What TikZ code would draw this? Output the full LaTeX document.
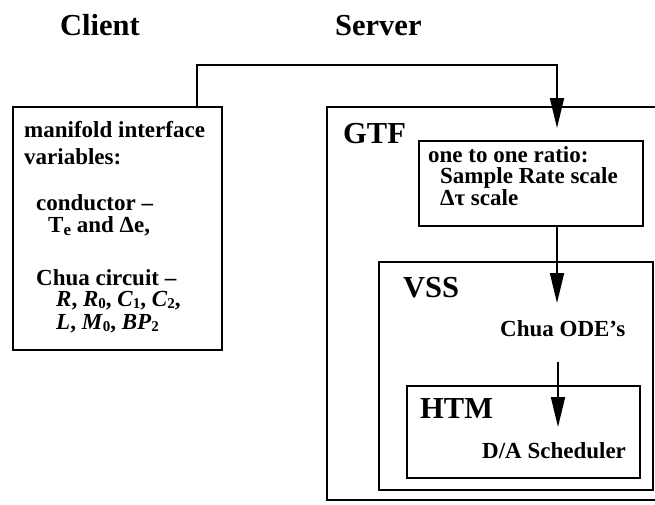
\documentclass[tikz,border=0pt]{standalone}
\usepackage{fontspec}
\setmainfont{Liberation Serif}
\usetikzlibrary{arrows.meta}
\newcommand{\mysub}[1]{\raisebox{-0.25ex}{\fontsize{15pt}{15pt}\selectfont\upshape #1}}
\tikzset{
  box/.style={draw, line width=1.8pt, inner sep=0pt, outer sep=0pt, anchor=north west},
  body/.style={font=\fontsize{23pt}{25pt}\selectfont\bfseries, inner sep=0pt, anchor=base west},
  head/.style={font=\fontsize{30.5pt}{32pt}\selectfont\bfseries, inner sep=0pt, anchor=base west},
  conn/.style={line width=1.8pt, -{Triangle[length=30pt,width=14pt]}},
}
\begin{document}
\begin{tikzpicture}[x=1pt,y=-1pt]
\useasboundingbox (0,0) rectangle (655,504);
\clip (0,0) rectangle (655,504);
% titles
\node[head] (tclient) at (60,35) {Client};
\node[head] (tserver) at (335,35) {Server};
% client box
\node[box, minimum width=209pt, minimum height=243pt] (clientbox) at (13,107) {};
\node[body] (l1) at (24,137) {manifold interface};
\node[body] (l2) at (24,164) {variables:};
\node[body] (l3) at (36,210) {conductor –};
\node[body] (l4) at (48,232) {T\raisebox{-0.35ex}{\fontsize{17pt}{17pt}\selectfont e} and Δe,};
\node[body] (l5) at (36,285) {Chua circuit –};
\node[body] (l6) at (56,306) {\textit{R}, \textit{R}\mysub{0}, \textit{C}\mysub{1}, \textit{C}\mysub{2},};
\node[body] (l7) at (56,329) {\textit{L}, \textit{M}\mysub{0}, \textit{BP}\mysub{2}};
% server boxes
\node[box, minimum width=373pt, minimum height=393pt] (gtf) at (327,107) {};
\node[head] (tgtf) at (343,143) {GTF};
\node[box, minimum width=224pt, minimum height=85pt] (ratio) at (419,141) {};
\node[body] (r1) at (428,162) {one to one ratio:};
\node[body] (r2) at (440,183) {Sample Rate scale};
\node[body] (r3) at (440,205) {Δτ scale};
\node[box, minimum width=274pt, minimum height=228pt] (vss) at (379,262) {};
\node[head] (tvss) at (403,297) {VSS};
\node[body] (chua) at (500,336) {Chua ODE’s};
\node[box, minimum width=233pt, minimum height=92pt] (htm) at (407,386) {};
\node[head] (thtm) at (420,418) {HTM};
\node[body] (da) at (482,458) {D/A Scheduler};
% connectors
\coordinate (s1) at (197,107);
\coordinate (t1) at (557,128);
\coordinate (t2) at (557,303);
\coordinate (s3) at (558,362);
\coordinate (t3) at (558,427);
\draw[conn] (s1) -- (197,65) -| (t1);
\draw[conn] (ratio.south -| t2) -- (t2);
\draw[conn] (s3) -- (t3);
\end{tikzpicture}
\end{document}
